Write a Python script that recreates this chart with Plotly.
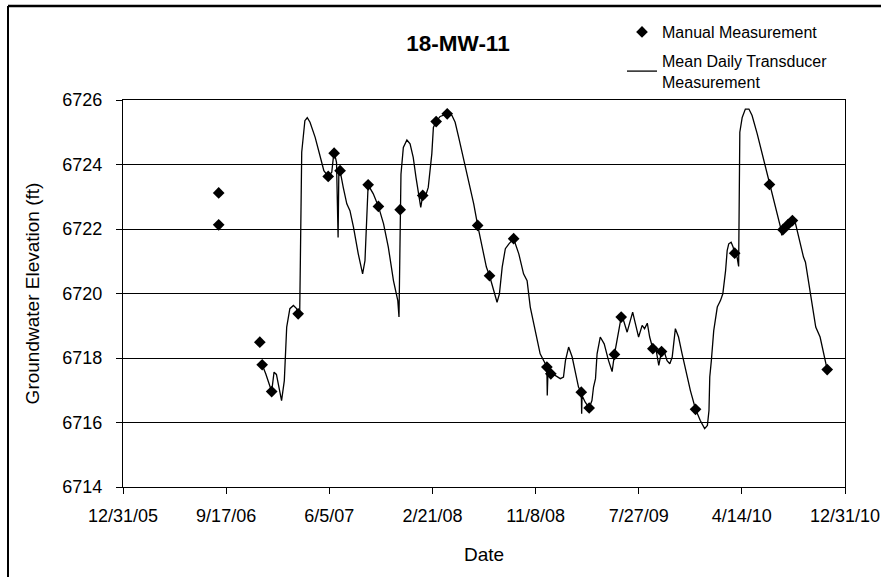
import pandas as pd
import plotly.graph_objects as go

# ---- data ----
manual_dates = ["2006-08-30", "2006-08-30", "2006-12-12", "2006-12-18", "2007-01-11", "2007-03-19",
                "2007-06-03", "2007-06-18", "2007-07-03", "2007-09-12", "2007-10-08", "2007-12-02",
                "2008-01-28", "2008-03-02", "2008-03-30", "2008-06-15", "2008-07-15", "2008-09-14",
                "2008-12-07", "2008-12-17", "2009-03-04", "2009-03-24", "2009-05-27", "2009-06-13",
                "2009-09-01", "2009-09-23", "2009-12-18", "2010-03-27", "2010-06-23", "2010-07-27",
                "2010-08-09", "2010-08-20", "2010-11-16"]
manual_values = [6723.12, 6722.13, 6718.49, 6717.79, 6716.96, 6719.37,
                 6723.63, 6724.35, 6723.81, 6723.37, 6722.70, 6722.60,
                 6723.04, 6725.33, 6725.57, 6722.11, 6720.55, 6721.70,
                 6717.72, 6717.51, 6716.94, 6716.45, 6718.11, 6719.27,
                 6718.29, 6718.20, 6716.41, 6721.25, 6723.38, 6721.98,
                 6722.14, 6722.26, 6717.64]

transducer_dates = [
    "2006-12-18", "2006-12-27", "2007-01-11", "2007-01-17", "2007-01-23", "2007-02-01", "2007-02-05",
    "2007-02-12", "2007-02-18", "2007-02-26", "2007-03-07", "2007-03-15", "2007-03-19", "2007-03-23",
    "2007-03-25", "2007-03-28", "2007-04-05", "2007-04-11", "2007-04-18", "2007-05-01", "2007-05-13",
    "2007-05-23", "2007-06-03", "2007-06-12", "2007-06-16", "2007-06-20", "2007-06-24", "2007-06-28",
    "2007-06-30", "2007-07-03", "2007-07-11", "2007-07-20", "2007-07-28", "2007-08-06", "2007-08-18",
    "2007-08-29", "2007-09-04", "2007-09-08", "2007-09-12", "2007-09-25", "2007-10-08", "2007-10-21",
    "2007-11-02", "2007-11-15", "2007-11-26", "2007-11-29", "2007-12-01", "2007-12-02", "2007-12-04",
    "2007-12-10", "2007-12-19", "2007-12-27", "2008-01-04", "2008-01-11", "2008-01-20", "2008-01-23",
    "2008-01-28", "2008-02-03", "2008-02-11", "2008-02-20", "2008-02-24", "2008-03-02", "2008-03-12",
    "2008-03-30", "2008-04-11", "2008-04-19", "2008-04-28", "2008-05-10", "2008-05-23", "2008-06-05",
    "2008-06-15", "2008-06-26", "2008-07-07", "2008-07-15", "2008-07-25", "2008-08-03", "2008-08-09",
    "2008-08-16", "2008-08-24", "2008-09-02", "2008-09-14", "2008-09-27", "2008-10-09", "2008-10-18",
    "2008-10-26", "2008-11-08", "2008-11-20", "2008-12-03", "2008-12-07", "2008-12-08", "2008-12-10",
    "2008-12-17", "2008-12-28", "2009-01-10", "2009-01-18", "2009-01-23", "2009-01-31", "2009-02-09",
    "2009-02-17", "2009-02-25", "2009-03-04", "2009-03-05", "2009-03-06", "2009-03-14", "2009-03-24",
    "2009-03-31", "2009-04-04", "2009-04-09", "2009-04-13", "2009-04-21", "2009-05-01", "2009-05-12",
    "2009-05-21", "2009-05-27", "2009-06-02", "2009-06-07", "2009-06-13", "2009-06-19", "2009-06-28",
    "2009-07-06", "2009-07-12", "2009-07-19", "2009-07-27", "2009-08-05", "2009-08-11", "2009-08-18",
    "2009-08-24", "2009-09-01", "2009-09-08", "2009-09-16", "2009-09-23", "2009-09-29", "2009-10-07",
    "2009-10-14", "2009-10-20", "2009-10-28", "2009-11-05", "2009-11-14", "2009-11-27", "2009-12-05",
    "2009-12-18", "2009-12-30", "2010-01-10", "2010-01-17", "2010-01-21", "2010-01-23", "2010-01-27",
    "2010-02-02", "2010-02-11", "2010-02-19", "2010-02-25", "2010-03-04", "2010-03-08", "2010-03-12",
    "2010-03-18", "2010-03-23", "2010-03-27", "2010-04-02", "2010-04-06", "2010-04-09", "2010-04-15",
    "2010-04-23", "2010-05-02", "2010-05-10", "2010-05-23", "2010-06-05", "2010-06-13", "2010-06-23",
    "2010-07-04", "2010-07-15", "2010-07-21", "2010-07-24", "2010-07-27", "2010-08-07", "2010-08-20",
    "2010-08-28", "2010-09-05", "2010-09-17", "2010-09-22", "2010-10-01", "2010-10-09", "2010-10-18",
    "2010-10-29", "2010-11-08", "2010-11-16"]
transducer_values = [
    6717.79, 6717.51, 6716.96, 6717.56, 6717.49, 6716.94, 6716.68,
    6717.30, 6718.96, 6719.53, 6719.63, 6719.53, 6719.37, 6719.47,
    6721.64, 6724.38, 6725.36, 6725.45, 6725.31, 6724.84, 6724.28,
    6723.81, 6723.63, 6723.76, 6724.22, 6724.28, 6724.07, 6721.74,
    6723.90, 6723.81, 6723.29, 6722.78, 6722.57, 6722.05, 6721.23,
    6720.61, 6721.02, 6722.47, 6723.37, 6723.09, 6722.70, 6722.16,
    6721.44, 6720.40, 6719.78, 6719.27, 6721.00, 6722.60, 6723.70,
    6724.53, 6724.76, 6724.64, 6724.22, 6723.60, 6722.98, 6722.67,
    6723.04, 6722.98, 6723.29, 6724.33, 6725.15, 6725.33, 6725.49,
    6725.57, 6725.52, 6725.31, 6724.84, 6724.22, 6723.50, 6722.78,
    6722.11, 6721.44, 6720.82, 6720.55, 6720.09, 6719.73, 6719.99,
    6720.82, 6721.39, 6721.54, 6721.70, 6721.23, 6720.61, 6720.40,
    6719.58, 6718.85, 6718.13, 6717.82, 6717.72, 6716.84, 6717.65,
    6717.49, 6717.46, 6717.36, 6717.41, 6717.92, 6718.34, 6718.03,
    6717.51, 6717.10, 6716.94, 6716.27, 6716.84, 6716.63, 6716.45,
    6716.68, 6717.10, 6717.36, 6718.13, 6718.65, 6718.44, 6717.92,
    6717.58, 6718.11, 6718.54, 6718.96, 6719.27, 6719.16, 6718.80,
    6719.16, 6719.42, 6719.06, 6718.65, 6719.01, 6718.91, 6719.08,
    6718.65, 6718.29, 6718.34, 6717.77, 6718.20, 6718.23, 6717.92,
    6717.82, 6718.03, 6718.91, 6718.65, 6718.13, 6717.37, 6716.99,
    6716.41, 6716.06, 6715.81, 6715.91, 6716.37, 6717.41, 6717.92,
    6718.85, 6719.58, 6719.78, 6719.99, 6720.71, 6721.33, 6721.54,
    6721.59, 6721.44, 6721.25, 6721.13, 6720.84, 6725.00, 6725.46,
    6725.72, 6725.72, 6725.52, 6724.95, 6724.33, 6723.91, 6723.38,
    6722.88, 6722.36, 6722.05, 6721.80, 6721.98, 6722.16, 6722.26,
    6722.16, 6721.74, 6721.13, 6720.97, 6720.30, 6719.58, 6718.96,
    6718.65, 6718.03, 6717.64]

x_range = ["2005-12-31", "2010-12-31"]
x_tick_labels = ["12/31/05", "9/17/06", "6/5/07", "2/21/08", "11/8/08", "7/27/09", "4/14/10", "12/31/10"]
y_ticks = [6714, 6716, 6718, 6720, 6722, 6724, 6726]

# tick positions: axis span split into equal major units (as the source chart does)
start = pd.Timestamp(x_range[0])
span = pd.Timestamp(x_range[1]) - start
n = len(x_tick_labels) - 1
x_tick_vals = [(start + span * k / n).strftime("%Y-%m-%d %H:%M:%S") for k in range(n + 1)]

FONT = "Liberation Sans, Arial, sans-serif"
W, H = 881, 577

fig = go.Figure()
fig.add_trace(go.Scatter(
    x=manual_dates, y=manual_values, mode="markers", name="Manual Measurement",
    legendgroup="manual",
    marker=dict(symbol="diamond", size=9, color="black"),
))
fig.add_trace(go.Scatter(
    x=transducer_dates, y=transducer_values, mode="lines",
    name="Mean Daily Transducer<br>Measurement", legendgroup="transducer",
    line=dict(color="black", width=1.3),
))

fig.update_layout(
    width=W, height=H,
    margin=dict(l=123, r=36, t=100, b=90, autoexpand=False),
    paper_bgcolor="white", plot_bgcolor="white",
    font=dict(family=FONT, color="black", size=18),
    title=dict(text="<b>18-MW-11</b>", xref="container", yref="container",
               x=458 / W, y=1 - 43 / H, xanchor="center", yanchor="middle",
               font=dict(size=22.5, family=FONT, color="black")),
    legend=dict(xref="container", yref="container",
                x=622 / W, y=1 - 15 / H, xanchor="left", yanchor="top",
                font=dict(size=16, family=FONT, color="black"),
                bgcolor="rgba(0,0,0,0)", tracegroupgap=5),
    xaxis=dict(type="date", range=x_range, tickmode="array",
               tickvals=x_tick_vals, ticktext=x_tick_labels,
               ticks="outside", ticklen=6, tickcolor="black",
               showline=True, linecolor="black", linewidth=1.3, mirror=True,
               showgrid=False, zeroline=False, automargin=False,
               ticklabelstandoff=6,
               tickfont=dict(size=18),
               title=dict(text="Date", font=dict(size=19), standoff=22)),
    yaxis=dict(range=[6714, 6726], tickmode="array", tickvals=y_ticks,
               ticks="outside", ticklen=6, tickcolor="black",
               showline=True, linecolor="black", linewidth=1.3, mirror=True,
               showgrid=True, gridcolor="black", gridwidth=1, zeroline=False,
               automargin=False, ticklabelstandoff=10,
               tickfont=dict(size=18),
               title=dict(text="Groundwater Elevation (ft)", font=dict(size=19), standoff=17)),
)

# outer chart-area frame: left edge and top edge (pixel positions expressed in paper units)
frame_left = (8 - 123) / 722
frame_top = (487 - 6) / 387
fig.add_shape(type="line", xref="paper", yref="paper", layer="above",
              x0=frame_left, x1=frame_left, y0=(487 - 600) / 387, y1=frame_top,
              line=dict(color="black", width=2))
fig.add_shape(type="line", xref="paper", yref="paper", layer="above",
              x0=frame_left, x1=(900 - 123) / 722, y0=frame_top, y1=frame_top,
              line=dict(color="black", width=2.5))

fig.write_html("out.html", config={"displayModeBar": False},
               post_script="document.body.style.margin='0';")
